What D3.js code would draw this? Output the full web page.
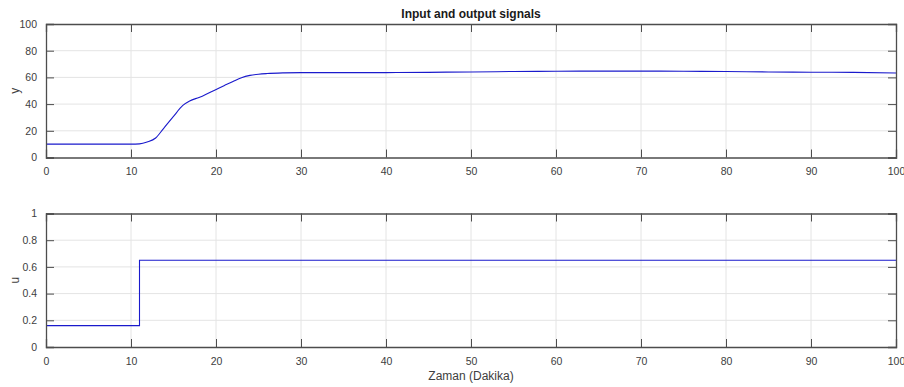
<!DOCTYPE html>
<html>
<head>
<meta charset="utf-8">
<script src="https://cdn.jsdelivr.net/npm/d3@7/dist/d3.min.js"></script>
<style>
  html, body { margin: 0; padding: 0; background: #fff; }
  svg { display: block; font-family: "Liberation Sans", Arial, Helvetica, sans-serif; }
</style>
</head>
<body>
<svg id="chart" width="904" height="387"></svg>
<script>
// Time axis (minutes)
const xTicks = [0, 10, 20, 30, 40, 50, 60, 70, 80, 90, 100];

// Output signal y(t)
const yTime = [0, 5, 10, 11, 11.9, 12.9, 13.8, 15, 16.1, 16.9, 18, 18.5, 19.9, 21, 22, 23, 24, 25, 26, 28, 30, 35, 40, 45, 50, 55, 60, 65, 70, 75, 80, 85, 90, 95, 100];
const yValue = [10, 10, 10, 10.2, 11.6, 14.6, 21.5, 30.8, 39.0, 42.3, 45.0, 46.3, 50.6, 54.0, 57.0, 59.8, 61.5, 62.4, 62.9, 63.4, 63.6, 63.6, 63.6, 63.8, 64.1, 64.4, 64.6, 64.7, 64.7, 64.6, 64.4, 64.1, 63.9, 63.8, 63.3];
const yTicks = [0, 20, 40, 60, 80, 100];

// Input signal u(t), a single step
const uTime = [0, 11, 11, 100];
const uValue = [0.16, 0.16, 0.65, 0.65];
const uTicks = [0, 0.2, 0.4, 0.6, 0.8, 1];

const svg = d3.select("#chart");
const left = 46, right = 896;
const x = d3.scaleLinear().domain([0, 100]).range([left, right]);

const axisColor = "#4d4d4d";
const textColor = "#404040";
const gridColor = "#e4e4e4";
const lineColor = "#1a1acc";
const tickLen = 8;

function panel(top, bottom, yDomain, ticks, fmt, times, values, label, curve) {
  const y = d3.scaleLinear().domain(yDomain).range([bottom, top]);
  const g = svg.append("g");

  // grid
  g.append("g").selectAll("line").data(xTicks.slice(1, -1)).join("line")
    .attr("x1", d => x(d)).attr("x2", d => x(d))
    .attr("y1", top).attr("y2", bottom)
    .attr("stroke", gridColor).attr("stroke-width", 1);
  g.append("g").selectAll("line").data(ticks.slice(1, -1)).join("line")
    .attr("x1", left).attr("x2", right)
    .attr("y1", d => y(d)).attr("y2", d => y(d))
    .attr("stroke", gridColor).attr("stroke-width", 1);

  // signal
  const line = d3.line().x((d, i) => x(times[i])).y(d => y(d)).curve(curve);
  g.append("path").datum(values)
    .attr("d", line)
    .attr("fill", "none")
    .attr("stroke", lineColor)
    .attr("stroke-width", 1.1);

  // inward ticks on all four sides
  const bottomAxis = d3.axisBottom(x).tickValues(xTicks).tickSize(-tickLen).tickPadding(12).tickFormat(d3.format("d"));
  const topAxis = d3.axisTop(x).tickValues(xTicks).tickSize(-tickLen).tickFormat("");
  const leftAxis = d3.axisLeft(y).tickValues(ticks).tickSize(-tickLen).tickPadding(12).tickFormat(fmt);
  const rightAxis = d3.axisRight(y).tickValues(ticks).tickSize(-tickLen).tickFormat("");

  const axes = [
    g.append("g").attr("transform", `translate(0,${bottom})`).call(bottomAxis),
    g.append("g").attr("transform", `translate(0,${top})`).call(topAxis),
    g.append("g").attr("transform", `translate(${left},0)`).call(leftAxis),
    g.append("g").attr("transform", `translate(${right},0)`).call(rightAxis)
  ];
  axes.forEach(a => {
    a.select(".domain").attr("stroke", axisColor).attr("stroke-width", 1.3);
    a.selectAll(".tick line").attr("stroke", axisColor).attr("stroke-width", 1);
    a.selectAll(".tick text").attr("fill", textColor).attr("font-size", 10.5)
      .attr("font-family", "'Liberation Sans', Arial, sans-serif");
  });
  axes[2].selectAll(".tick text").attr("dx", 3);
  axes[0].selectAll(".tick text").attr("dy", "0.55em");

  // y label
  svg.append("text")
    .attr("transform", `translate(19,${(top + bottom) / 2}) rotate(-90)`)
    .attr("text-anchor", "middle")
    .attr("fill", textColor)
    .attr("font-size", 12)
    .text(label);
}

panel(24, 157.5, [0, 100], yTicks, d3.format("d"), yTime, yValue, "y", d3.curveMonotoneX);
panel(213.5, 347, [0, 1], uTicks, d => d === 0 || d === 1 ? String(d) : d3.format(".1f")(d), uTime, uValue, "u", d3.curveLinear);

// title
svg.append("text")
  .attr("x", (left + right) / 2).attr("y", 18)
  .attr("text-anchor", "middle")
  .attr("font-weight", "bold")
  .attr("font-size", 12)
  .attr("fill", "#1a1a1a")
  .text("Input and output signals");

// x label
svg.append("text")
  .attr("x", (left + right) / 2).attr("y", 380)
  .attr("text-anchor", "middle")
  .attr("font-size", 12)
  .attr("fill", textColor)
  .text("Zaman (Dakika)");
</script>
</body>
</html>
